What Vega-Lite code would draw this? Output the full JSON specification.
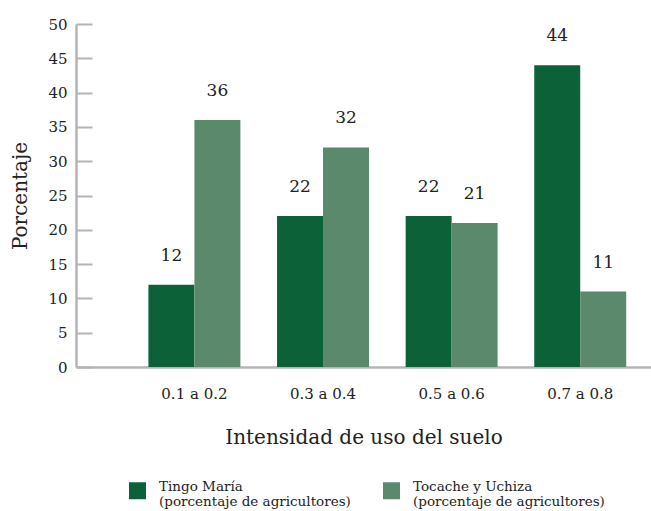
{
  "$schema": "https://vega.github.io/schema/vega-lite/v6.json",
  "width": 575,
  "height": 343,
  "autosize": {"type": "none"},
  "padding": {"left": 76, "top": 24, "right": 0, "bottom": 144},
  "config": {
    "font": "DejaVu Serif",
    "view": {"stroke": null},
    "axis": {"grid": false}
  },
  "data": {
    "values": [
      {"intensidad": "0.1 a 0.2", "zona": "Tingo María", "pct": 12},
      {"intensidad": "0.1 a 0.2", "zona": "Tocache y Uchiza", "pct": 36},
      {"intensidad": "0.3 a 0.4", "zona": "Tingo María", "pct": 22},
      {"intensidad": "0.3 a 0.4", "zona": "Tocache y Uchiza", "pct": 32},
      {"intensidad": "0.5 a 0.6", "zona": "Tingo María", "pct": 22},
      {"intensidad": "0.5 a 0.6", "zona": "Tocache y Uchiza", "pct": 21},
      {"intensidad": "0.7 a 0.8", "zona": "Tingo María", "pct": 44},
      {"intensidad": "0.7 a 0.8", "zona": "Tocache y Uchiza", "pct": 11}
    ]
  },
  "encoding": {
    "x": {
      "field": "intensidad",
      "type": "nominal",
      "sort": ["0.1 a 0.2", "0.3 a 0.4", "0.5 a 0.6", "0.7 a 0.8"],
      "scale": {"paddingInner": 0.285, "paddingOuter": 0.378, "align": 0.745},
      "axis": {
        "title": "Intensidad de uso del suelo",
        "titleFontSize": 20,
        "titleFontWeight": "normal",
        "titleColor": "#222222",
        "titlePadding": 26,
        "labelAngle": 0,
        "labelFontSize": 15,
        "labelColor": "#222222",
        "labelPadding": 19,
        "ticks": false,
        "domainColor": "#b4b4b8",
        "domainWidth": 2.5
      }
    },
    "y": {
      "field": "pct",
      "type": "quantitative",
      "scale": {"domain": [0, 50], "nice": false},
      "axis": {
        "title": "Porcentaje",
        "titleFontSize": 20,
        "titleFontWeight": "normal",
        "titleColor": "#222222",
        "titlePadding": 17,
        "values": [0, 5, 10, 15, 20, 25, 30, 35, 40, 45, 50],
        "labelFontSize": 15,
        "labelColor": "#222222",
        "labelPadding": 25,
        "tickSize": -16,
        "tickWidth": 2,
        "tickColor": "#b4b4b8",
        "domainColor": "#b4b4b8",
        "domainWidth": 2.5
      }
    },
    "xOffset": {"field": "zona", "type": "nominal", "sort": ["Tingo María", "Tocache y Uchiza"]}
  },
  "layer": [
    {
      "mark": {"type": "bar"},
      "encoding": {
        "color": {
          "field": "zona",
          "type": "nominal",
          "sort": ["Tingo María", "Tocache y Uchiza"],
          "scale": {"range": ["#0d6139", "#5a8a6b"]},
          "legend": {
            "title": null,
            "orient": "none",
            "legendX": 53,
            "legendY": 458,
            "direction": "horizontal",
            "symbolType": "square",
            "symbolSize": 289,
            "symbolStrokeWidth": 0,
            "symbolOpacity": 1,
            "labelFontSize": 13.5,
            "labelColor": "#222222",
            "labelOffset": 13,
            "labelLimit": 400,
            "labelBaseline": "alphabetic",
            "columnPadding": 32,
            "labelExpr": "[datum.label, '(porcentaje de agricultores)']"
          }
        }
      }
    },
    {
      "mark": {"type": "text", "baseline": "bottom", "dy": -20, "fontSize": 17, "color": "#222222"},
      "encoding": {"text": {"field": "pct", "type": "quantitative"}}
    }
  ]
}
